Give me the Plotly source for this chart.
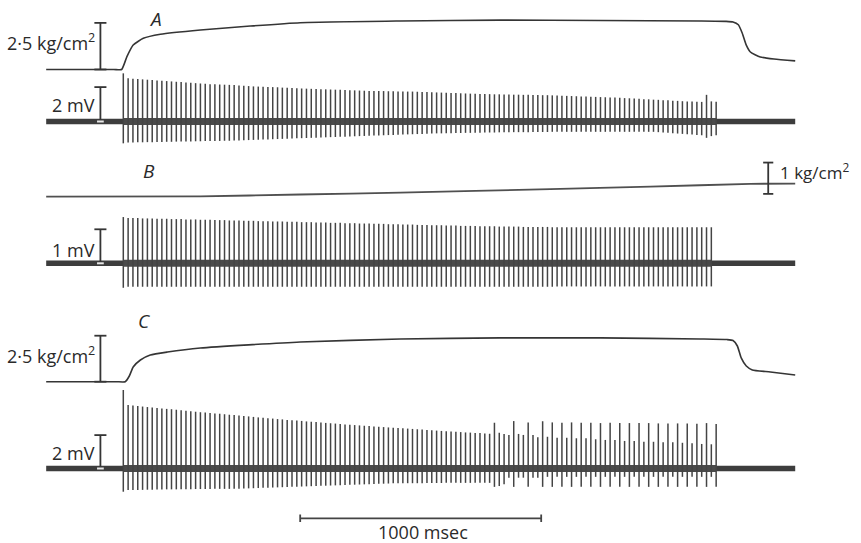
import plotly.graph_objects as go

# ---------------- data ----------------
# spike times (ms after onset of stimulation)
SPIKE_T = [0, 20, 40, 60, 80, 100, 120, 140, 160, 180,
           200, 220, 240, 260, 280, 300, 320, 340, 360, 380,
           400, 420, 440, 460, 480, 500, 520, 540, 560, 580,
           600, 620, 640, 660, 680, 700, 720, 740, 760, 780,
           800, 820, 840, 860, 880, 900, 920, 940, 960, 980,
           1000, 1020, 1040, 1060, 1080, 1100, 1120, 1140, 1160, 1180,
           1200, 1220, 1240, 1260, 1280, 1300, 1320, 1340, 1360, 1380,
           1400, 1420, 1440, 1460, 1480, 1500, 1520, 1540, 1560, 1580,
           1600, 1620, 1640, 1660, 1680, 1700, 1720, 1740, 1760, 1780,
           1800, 1820, 1840, 1860, 1880, 1900, 1920, 1940, 1960, 1980,
           2000, 2020, 2040, 2060, 2080, 2100, 2120, 2140, 2160, 2180,
           2200, 2220, 2240, 2260, 2280, 2300, 2320, 2340, 2360, 2380,
           2400, 2420, 2440, 2460]

# A: spike amplitudes (mV), positive and negative phase
A_UP = [2.80, 2.51, 2.49, 2.47, 2.45, 2.43, 2.41, 2.39, 2.37, 2.35,
        2.33, 2.31, 2.29, 2.27, 2.25, 2.23, 2.21, 2.19, 2.17, 2.16,
        2.15, 2.14, 2.13, 2.12, 2.10, 2.08, 2.06, 2.04, 2.03, 2.02,
        2.01, 2.00, 1.99, 1.97, 1.96, 1.95, 1.93, 1.92, 1.91, 1.90,
        1.89, 1.88, 1.87, 1.86, 1.85, 1.84, 1.83, 1.82, 1.81, 1.80,
        1.79, 1.78, 1.78, 1.77, 1.77, 1.76, 1.76, 1.75, 1.75, 1.74,
        1.74, 1.73, 1.72, 1.71, 1.70, 1.69, 1.68, 1.67, 1.66, 1.65,
        1.64, 1.63, 1.62, 1.61, 1.60, 1.60, 1.59, 1.58, 1.58, 1.57,
        1.57, 1.56, 1.56, 1.55, 1.55, 1.54, 1.54, 1.53, 1.53, 1.52,
        1.51, 1.50, 1.49, 1.48, 1.47, 1.46, 1.45, 1.44, 1.43, 1.42,
        1.41, 1.40, 1.39, 1.38, 1.36, 1.35, 1.33, 1.32, 1.30, 1.29,
        1.27, 1.26, 1.24, 1.23, 1.21, 1.20, 1.18, 1.17, 1.16, 1.15,
        1.14, 1.55, 1.17, 1.15]
A_DOWN = [1.27, 1.22, 1.22, 1.21, 1.21, 1.20, 1.20, 1.19, 1.19, 1.18,
          1.18, 1.17, 1.17, 1.16, 1.16, 1.15, 1.15, 1.14, 1.14, 1.13,
          1.13, 1.12, 1.12, 1.11, 1.10, 1.09, 1.08, 1.07, 1.06, 1.05,
          1.04, 1.03, 1.02, 1.01, 1.00, 0.99, 0.98, 0.97, 0.96, 0.95,
          0.94, 0.93, 0.92, 0.91, 0.90, 0.89, 0.88, 0.87, 0.86, 0.85,
          0.84, 0.83, 0.82, 0.81, 0.80, 0.79, 0.78, 0.77, 0.76, 0.75,
          0.74, 0.73, 0.72, 0.71, 0.70, 0.69, 0.69, 0.68, 0.68, 0.67,
          0.67, 0.66, 0.66, 0.65, 0.65, 0.64, 0.64, 0.64, 0.63, 0.63,
          0.63, 0.62, 0.62, 0.62, 0.62, 0.61, 0.61, 0.61, 0.61, 0.60,
          0.60, 0.60, 0.60, 0.60, 0.60, 0.60, 0.60, 0.60, 0.60, 0.60,
          0.60, 0.60, 0.60, 0.60, 0.60, 0.60, 0.60, 0.60, 0.60, 0.60,
          0.60, 0.62, 0.64, 0.66, 0.68, 0.70, 0.72, 0.74, 0.76, 0.78,
          0.80, 0.95, 0.85, 0.80]

# B: spike amplitudes (mV)
B_UP = [1.36, 1.33, 1.33, 1.33, 1.32, 1.32, 1.32, 1.31, 1.31, 1.31,
        1.30, 1.30, 1.30, 1.29, 1.29, 1.29, 1.28, 1.28, 1.28, 1.27,
        1.27, 1.27, 1.26, 1.26, 1.26, 1.25, 1.25, 1.25, 1.24, 1.24,
        1.24, 1.23, 1.23, 1.23, 1.22, 1.22, 1.22, 1.21, 1.21, 1.21,
        1.20, 1.20, 1.20, 1.19, 1.19, 1.19, 1.18, 1.18, 1.18, 1.17,
        1.17, 1.17, 1.16, 1.16, 1.16, 1.15, 1.15, 1.15, 1.14, 1.14,
        1.14, 1.13, 1.13, 1.13, 1.12, 1.12, 1.12, 1.11, 1.11, 1.11,
        1.10, 1.10, 1.10, 1.10, 1.09, 1.09, 1.09, 1.09, 1.08, 1.08,
        1.08, 1.08, 1.08, 1.07, 1.07, 1.07, 1.07, 1.07, 1.07, 1.06,
        1.06, 1.06, 1.06, 1.06, 1.06, 1.06, 1.06, 1.06, 1.06, 1.06,
        1.06, 1.06, 1.06, 1.06, 1.06, 1.06, 1.06, 1.06, 1.06, 1.06,
        1.06, 1.06, 1.06, 1.06, 1.06, 1.06, 1.06, 1.06, 1.06, 1.06,
        1.06, 1.06, 1.06]
B_DOWN = [0.72, 0.69, 0.69, 0.69, 0.69, 0.69, 0.69, 0.69, 0.69, 0.69,
          0.69, 0.69, 0.69, 0.69, 0.69, 0.69, 0.69, 0.69, 0.69, 0.69,
          0.69, 0.69, 0.69, 0.69, 0.69, 0.69, 0.69, 0.69, 0.69, 0.69,
          0.69, 0.69, 0.69, 0.69, 0.69, 0.69, 0.69, 0.69, 0.69, 0.69,
          0.69, 0.69, 0.69, 0.69, 0.69, 0.69, 0.69, 0.69, 0.69, 0.69,
          0.69, 0.69, 0.69, 0.69, 0.69, 0.69, 0.69, 0.69, 0.69, 0.69,
          0.69, 0.69, 0.69, 0.69, 0.69, 0.69, 0.69, 0.69, 0.69, 0.69,
          0.69, 0.69, 0.69, 0.69, 0.69, 0.69, 0.69, 0.69, 0.69, 0.69,
          0.69, 0.69, 0.69, 0.69, 0.69, 0.69, 0.69, 0.69, 0.69, 0.69,
          0.68, 0.68, 0.68, 0.68, 0.68, 0.68, 0.68, 0.68, 0.68, 0.68,
          0.68, 0.68, 0.68, 0.68, 0.68, 0.68, 0.68, 0.68, 0.68, 0.68,
          0.68, 0.68, 0.68, 0.68, 0.68, 0.68, 0.68, 0.68, 0.68, 0.68,
          0.68, 0.68, 0.68]

# C: spike amplitudes (mV); alternating pattern in the second half
C_UP = [4.70, 3.80, 3.77, 3.74, 3.71, 3.68, 3.65, 3.62, 3.59, 3.57,
        3.55, 3.52, 3.49, 3.46, 3.43, 3.40, 3.37, 3.35, 3.32, 3.30,
        3.28, 3.25, 3.22, 3.20, 3.17, 3.14, 3.12, 3.09, 3.06, 3.04,
        3.01, 2.99, 2.96, 2.94, 2.91, 2.89, 2.87, 2.85, 2.82, 2.80,
        2.78, 2.76, 2.73, 2.71, 2.69, 2.67, 2.64, 2.62, 2.60, 2.58,
        2.56, 2.54, 2.52, 2.50, 2.48, 2.46, 2.44, 2.43, 2.41, 2.39,
        2.37, 2.35, 2.33, 2.31, 2.29, 2.27, 2.25, 2.23, 2.21, 2.20,
        2.18, 2.16, 2.15, 2.13, 2.12, 2.10, 2.08, 2.74, 2.14, 2.07,
        2.01, 2.84, 2.07, 2.01, 2.76, 2.01, 1.87, 2.83, 1.90, 2.76,
        1.84, 2.74, 1.84, 2.76, 1.81, 2.74, 1.81, 2.74, 1.75, 2.72,
        1.71, 2.74, 1.71, 2.72, 1.65, 2.72, 1.65, 2.72, 1.60, 2.72,
        1.60, 2.70, 1.57, 2.70, 1.57, 2.70, 1.54, 2.70, 1.51, 2.68,
        1.47, 2.72, 1.45, 2.66]
C_DOWN = [1.39, 1.29, 1.29, 1.28, 1.28, 1.27, 1.27, 1.26, 1.26, 1.25,
          1.25, 1.25, 1.24, 1.24, 1.24, 1.23, 1.23, 1.23, 1.23, 1.22,
          1.22, 1.22, 1.22, 1.22, 1.21, 1.20, 1.19, 1.18, 1.17, 1.16,
          1.15, 1.14, 1.13, 1.12, 1.11, 1.10, 1.09, 1.08, 1.07, 1.06,
          1.05, 1.04, 1.03, 1.02, 1.01, 1.00, 0.99, 0.98, 0.97, 0.96,
          0.95, 0.94, 0.93, 0.92, 0.91, 0.90, 0.89, 0.89, 0.89, 0.88,
          0.88, 0.88, 0.88, 0.87, 0.87, 0.87, 0.87, 0.86, 0.86, 0.86,
          0.86, 0.86, 0.86, 0.86, 0.86, 0.86, 0.86, 1.10, 1.05, 0.95,
          0.55, 1.10, 0.55, 0.55, 1.10, 0.55, 0.55, 1.10, 0.50, 1.10,
          0.50, 1.10, 0.50, 1.10, 0.50, 1.10, 0.50, 1.10, 0.50, 1.10,
          0.50, 1.10, 0.50, 1.10, 0.50, 1.10, 0.50, 1.10, 0.50, 1.10,
          0.50, 1.10, 0.50, 1.10, 0.50, 1.10, 0.50, 1.10, 0.50, 1.10,
          0.50, 1.10, 0.50, 1.10]

# pressure traces (ms, kg/cm2)
A_P_T = [-320, -40, -7, 15, 41, 83, 154, 320, 527, 734, 1149, 1564, 1979, 2394,
         2500, 2530, 2552, 2568, 2585, 2602, 2643, 2700, 2788]
A_P_V = [0.0, 0.0, 0.0, 0.69, 1.31, 1.67, 1.89, 2.12, 2.33, 2.51, 2.60, 2.65,
         2.63, 2.60, 2.58, 2.55, 2.40, 1.96, 1.31, 0.94, 0.67, 0.56, 0.46]
B_P_T = [-320, 320, 734, 1149, 1772, 2187, 2602, 2788]
B_P_V = [0.01, 0.02, 0.08, 0.14, 0.25, 0.33, 0.42, 0.43]
C_P_T = [-320, -30, 8, 25, 41, 71, 112, 183, 320, 734, 1149, 1564, 1979, 2394,
         2505, 2530, 2548, 2564, 2585, 2610, 2685, 2788]
C_P_V = [0.0, 0.0, 0.0, 0.31, 0.80, 1.18, 1.45, 1.61, 1.83, 2.16, 2.32, 2.38,
         2.38, 2.32, 2.29, 2.24, 1.94, 1.29, 0.85, 0.64, 0.53, 0.36]

# record extent and calibration values
REC_START, REC_END = -320, 2788
CAL_T = -95            # time position of left calibration bars
CAL_T_B = 2676         # time position of the 1 kg/cm2 bar
CAL_PRESS = 2.5        # kg/cm2
CAL_A_MV, CAL_B_MV, CAL_C_MV = 2.0, 1.0, 2.0
CAL_B_KG = (0.10, 1.10)
TIME_BAR = (734, 1734)  # 1000 msec

# ---------------- figure ----------------
INK = "#353535"
FONT = "Open Sans"
W, H = 861, 543

def yrange(base_px, px_per_unit):
    return [(base_px - H) / px_per_unit, base_px / px_per_unit]

def spikes(times, up, down):
    xs, ys = [], []
    for t, u, d in zip(times, up, down):
        xs += [t, t, None]
        ys += [-d, u, None]
    return xs, ys

def bar(t, y0, y1, half):
    xs = [t - half, t + half, None, t, t, None, t - half, t + half]
    ys = [y1, y1, None, y0, y1, None, y0, y0]
    return xs, ys

fig = go.Figure()

def line(x, y, ax, width=1.5, color=INK, shape="linear", smoothing=None):
    ld = dict(color=color, width=width, shape=shape)
    if smoothing is not None:
        ld["smoothing"] = smoothing
    fig.add_trace(go.Scatter(x=x, y=y, yaxis=ax, mode="lines", line=ld,
                             hoverinfo="skip", showlegend=False))

# pressure traces
line(A_P_T, A_P_V, "y", 1.6, shape="spline", smoothing=0.5)
line(B_P_T, B_P_V, "y3", 1.8, color="#505050", shape="spline", smoothing=0.5)
line(C_P_T, C_P_V, "y5", 1.6, shape="spline", smoothing=0.5)

# spike trains
for ax, up, down in (("y2", A_UP, A_DOWN), ("y4", B_UP, B_DOWN), ("y6", C_UP, C_DOWN)):
    n = len(up)
    t = SPIKE_T[:n]
    line([REC_START, REC_END], [0, 0], ax, 5.5, color="#3d3d3d")
    line([t[0], t[-1]], [0, 0], ax, 7, color="#4a4a4a")
    sx, sy = spikes(t, up, down)
    line(sx, sy, ax, 1.5, color="#444444")

# calibration bars
bx, by = bar(CAL_T, 0, CAL_PRESS, 25)
line(bx, by, "y", 1.8)
line(bx, by, "y5", 1.8)
for ax, mv in (("y2", CAL_A_MV), ("y4", CAL_B_MV), ("y6", CAL_C_MV)):
    bx, by = bar(CAL_T, 0, mv, 25)
    line(bx[:5], by[:5], ax, 1.8)
    line([CAL_T - 14, CAL_T + 14], [0, 0], ax, 2, color="#e8e8e8")
bx, by = bar(CAL_T_B, CAL_B_KG[0], CAL_B_KG[1], 21)
line(bx, by, "y3", 1.8)

# time bar
fig.add_shape(type="line", xref="x", yref="paper", x0=TIME_BAR[0], x1=TIME_BAR[1],
              y0=1 - 518.3 / H, y1=1 - 518.3 / H, line=dict(color="#444", width=1.8))
for tx in TIME_BAR:
    fig.add_shape(type="line", xref="x", yref="paper", x0=tx, x1=tx,
                  y0=1 - 514.5 / H, y1=1 - 522 / H, line=dict(color="#444", width=1.8))

def label(text, x, y, yref, xanchor="right", size=18, italic=False):
    fig.add_annotation(text=text, x=x, y=y, xref="x", yref=yref, showarrow=False,
                       xanchor=xanchor, yanchor="middle",
                       font=dict(family=FONT, size=size, color="#2a2a2a",
                                 style="italic" if italic else "normal"))

label("2·5 kg/cm<sup>2</sup>", -109, 1.50, "y")
label("2 mV", -109, 0.98, "y2")
label("1 mV", -109, 0.40, "y4")
label("1 kg/cm<sup>2</sup>", 2718, 0.80, "y3", xanchor="left", size=17)
label("2·5 kg/cm<sup>2</sup>", -109, 1.45, "y5")
label("2 mV", -109, 0.92, "y6")
label("A", 132, 2.72, "y", xanchor="center", size=19, italic=True)
label("B", 107, 0.82, "y3", xanchor="center", size=19, italic=True)
label("C", 86, 3.30, "y5", xanchor="center", size=19, italic=True)
fig.add_annotation(text="1000 msec", x=1245, y=1 - 532 / H, xref="x", yref="paper",
                   showarrow=False, xanchor="center", yanchor="middle",
                   font=dict(family=FONT, size=18, color="#2a2a2a"))

ax_common = dict(visible=False, showgrid=False, zeroline=False, fixedrange=True)
fig.update_layout(
    width=W, height=H, margin=dict(l=0, r=0, t=0, b=0),
    paper_bgcolor="white", plot_bgcolor="white", showlegend=False,
    xaxis=dict(range=[-123.3 / 0.241, (W - 123.3) / 0.241], **ax_common),
    yaxis=dict(range=yrange(69.5, 18.65), **ax_common),
    yaxis2=dict(range=yrange(121.5, 17.2), overlaying="y", **ax_common),
    yaxis3=dict(range=yrange(197.0, 31.3), overlaying="y", **ax_common),
    yaxis4=dict(range=yrange(263.3, 34.0), overlaying="y", **ax_common),
    yaxis5=dict(range=yrange(381.7, 18.4), overlaying="y", **ax_common),
    yaxis6=dict(range=yrange(468.5, 16.7), overlaying="y", **ax_common),
)

fig.write_html("out.html", config={"displayModeBar": False},
               post_script="document.body.style.margin='0';document.body.style.overflow='hidden';")
